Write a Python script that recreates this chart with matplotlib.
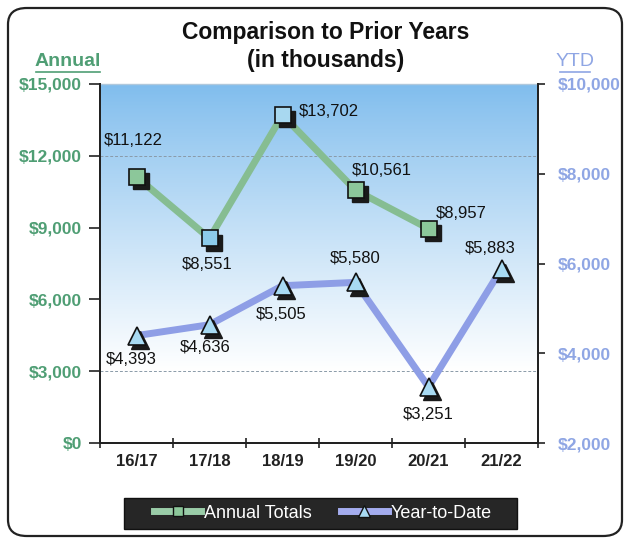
import numpy as np
import matplotlib
matplotlib.use("Agg")
import matplotlib.pyplot as plt
from matplotlib.patches import FancyBboxPatch, Rectangle
from matplotlib.lines import Line2D
import matplotlib.transforms as mtransforms

plt.rcParams['font.family'] = ['Liberation Sans', 'DejaVu Sans']

categories = ["16/17", "17/18", "18/19", "19/20", "20/21", "21/22"]
annual = [11122, 8551, 13702, 10561, 8957]
ytd = [4393, 4636, 5505, 5580, 3251, 5883]
annual_labels = ["$11,122", "$8,551", "$13,702", "$10,561", "$8,957"]
ytd_labels = ["$4,393", "$4,636", "$5,505", "$5,580", "$3,251", "$5,883"]
left_ticks = [0, 3000, 6000, 9000, 12000, 15000]
right_ticks = [2000, 4000, 6000, 8000, 10000]

W, H = 629, 542
fig = plt.figure(figsize=(W/100, H/100), dpi=100)
fig.patch.set_facecolor('white')

# outer rounded frame
frame = FancyBboxPatch((8/W, 6/H), 614/W, 528/H, boxstyle="round,pad=0,rounding_size=0.03",
                       transform=fig.transFigure, facecolor='none', edgecolor='#222222',
                       linewidth=1.6, zorder=-5)
fig.patches.append(frame)

ax = fig.add_axes([100/W, 1-443/H, 438/W, 359/H])
ax2 = ax.twinx()

# gradient background
grad = np.linspace(0, 1, 256).reshape(-1, 1)
top = np.array([0.50, 0.74, 0.93])
white = np.array([1.0, 1.0, 1.0])
t = np.clip(grad / 0.80, 0, 1) ** 0.9
img = top[None, None, :] * (1 - t[..., None]) + white[None, None, :] * t[..., None]
ax.imshow(img, extent=[0, 1, 0, 1], transform=ax.transAxes, aspect='auto', zorder=0)

ax.set_xlim(-0.5, 5.5)
ax.set_ylim(0, 15000)
ax2.set_ylim(2000, 10000)

for gv in [3000, 12000]:
    ax.axhline(gv, color='#8a9aa8', linestyle=(0, (3, 2)), linewidth=0.7, zorder=1)

x = np.arange(len(categories))
green_line = '#86bd92'
blue_line = '#8e9ee6'

# annual line
ax.plot(x[:len(annual)], annual, color=green_line, linewidth=5, zorder=3, solid_capstyle='round')
shadow = mtransforms.offset_copy(ax.transData, fig=fig, x=3, y=-3, units='points')
face_a = ['#8cc79a', '#8ccbea', '#a8d8f0', '#8cc79a', '#8cc79a']
for xi, yi, fc in zip(x, annual, face_a):
    ax.plot([xi], [yi], marker='s', markersize=11, color='#1a1a1a', transform=shadow, zorder=4, linestyle='none')
    ax.plot([xi], [yi], marker='s', markersize=11, markerfacecolor=fc, markeredgecolor='#111111',
            markeredgewidth=1.2, zorder=5, linestyle='none')

# ytd line on right axis
ax2.plot(x, ytd, color=blue_line, linewidth=5, zorder=3, solid_capstyle='round')
shadow2 = mtransforms.offset_copy(ax2.transData, fig=fig, x=2.5, y=-3, units='points')
for xi, yi in zip(x, ytd):
    ax2.plot([xi], [yi], marker='^', markersize=13, color='#1a1a1a', transform=shadow2, zorder=4, linestyle='none')
    ax2.plot([xi], [yi], marker='^', markersize=13, markerfacecolor='#a8daf2', markeredgecolor='#111111',
             markeredgewidth=1.2, zorder=5, linestyle='none')

# data labels (offsets in pixels)
fs = 12
a_off = [(-3, 36), (-2, -26), (46, 4), (26, 20), (33, 15)]
for xi, yi, lab, (dx, dy) in zip(x, annual, annual_labels, a_off):
    ax.annotate(lab, (xi, yi), xytext=(dx, dy), textcoords='offset pixels', ha='center', va='center',
                fontsize=fs, color='#111111', zorder=6)
y_off = [(-5, -24), (-4, -23), (-1, -29), (0, 24), (0, -28), (-11, 20)]
for xi, yi, lab, (dx, dy) in zip(x, ytd, ytd_labels, y_off):
    ax2.annotate(lab, (xi, yi), xytext=(dx, dy), textcoords='offset pixels', ha='center', va='center',
                 fontsize=fs, color='#111111', zorder=6)

# axes styling
ax.set_xticks(x)
ax.set_xticklabels(categories, fontsize=12, fontweight='bold', color='#222222')
ax.tick_params(axis='x', which='major', length=0, pad=8)
ax.set_xticks(np.arange(-0.5, 6.0, 1), minor=True)
ax.tick_params(axis='x', which='minor', length=7, direction='inout', width=1.2, color='#222222')

ax.set_yticks(left_ticks)
ax.set_yticklabels([f"${v:,}" for v in left_ticks], fontsize=12.5, fontweight='bold', color='#4f9e74')
ax.tick_params(axis='y', length=8, width=1.2, color='#222222', pad=5)

ax2.set_yticks(right_ticks)
ax2.set_yticklabels([f"${v:,}" for v in right_ticks], fontsize=12.5, fontweight='bold', color='#8fa6e4')
ax2.tick_params(axis='y', length=5, width=1.2, color='#222222', pad=9)

for sp in ax.spines.values():
    sp.set_color('#222222'); sp.set_linewidth(1.4)
for sp in ax2.spines.values():
    sp.set_color('#222222'); sp.set_linewidth(1.4)
ax.spines['top'].set_color('#b0c8dc'); ax.spines['top'].set_linewidth(1.0)
ax2.spines['top'].set_visible(False)

# title and axis headers
fig.text(0.518, 1-33/H, "Comparison to Prior Years", ha='center', va='center', fontsize=16.5, fontweight='bold', color='#111111')
fig.text(0.518, 1-60/H, "(in thousands)", ha='center', va='center', fontsize=16.5, fontweight='bold', color='#111111')
fig.text(68/W, 1-62/H, "Annual", ha='center', va='center', fontsize=14, fontweight='bold', color='#4f9e74')
fig.add_artist(Line2D([36/W, 100/W], [1-72/H, 1-72/H], color='#4f9e74', linewidth=1.2, transform=fig.transFigure))
fig.text(575/W, 1-62/H, "YTD", ha='center', va='center', fontsize=14, color='#8fa6e4')
fig.add_artist(Line2D([560/W, 590/W], [1-72/H, 1-72/H], color='#8fa6e4', linewidth=1.2, transform=fig.transFigure))

# legend box (drawn separately) and frameless legend
fig.add_artist(Rectangle((124/W, 1-529/H), 393/W, 31/H, transform=fig.transFigure,
                         facecolor='#262626', edgecolor='#111111', linewidth=1.0))
handles = [
    Line2D([0], [0], color='#9acca8', linewidth=5, marker='s', markersize=7,
           markerfacecolor='#8cc79a', markeredgecolor='#111111'),
    Line2D([0], [0], color='#a4acee', linewidth=5, marker='^', markersize=8,
           markerfacecolor='#a8daf2', markeredgecolor='#111111'),
]
leg = fig.legend(handles, ["Annual Totals", "Year-to-Date"], loc='center', bbox_to_anchor=(323/W, 1-513/H),
                 ncol=2, frameon=False, fontsize=13, handlelength=2.6, handletextpad=0.15,
                 columnspacing=1.6, borderpad=0, borderaxespad=0)
for txt in leg.get_texts():
    txt.set_color('white')

fig.savefig("out.png", dpi=100)
